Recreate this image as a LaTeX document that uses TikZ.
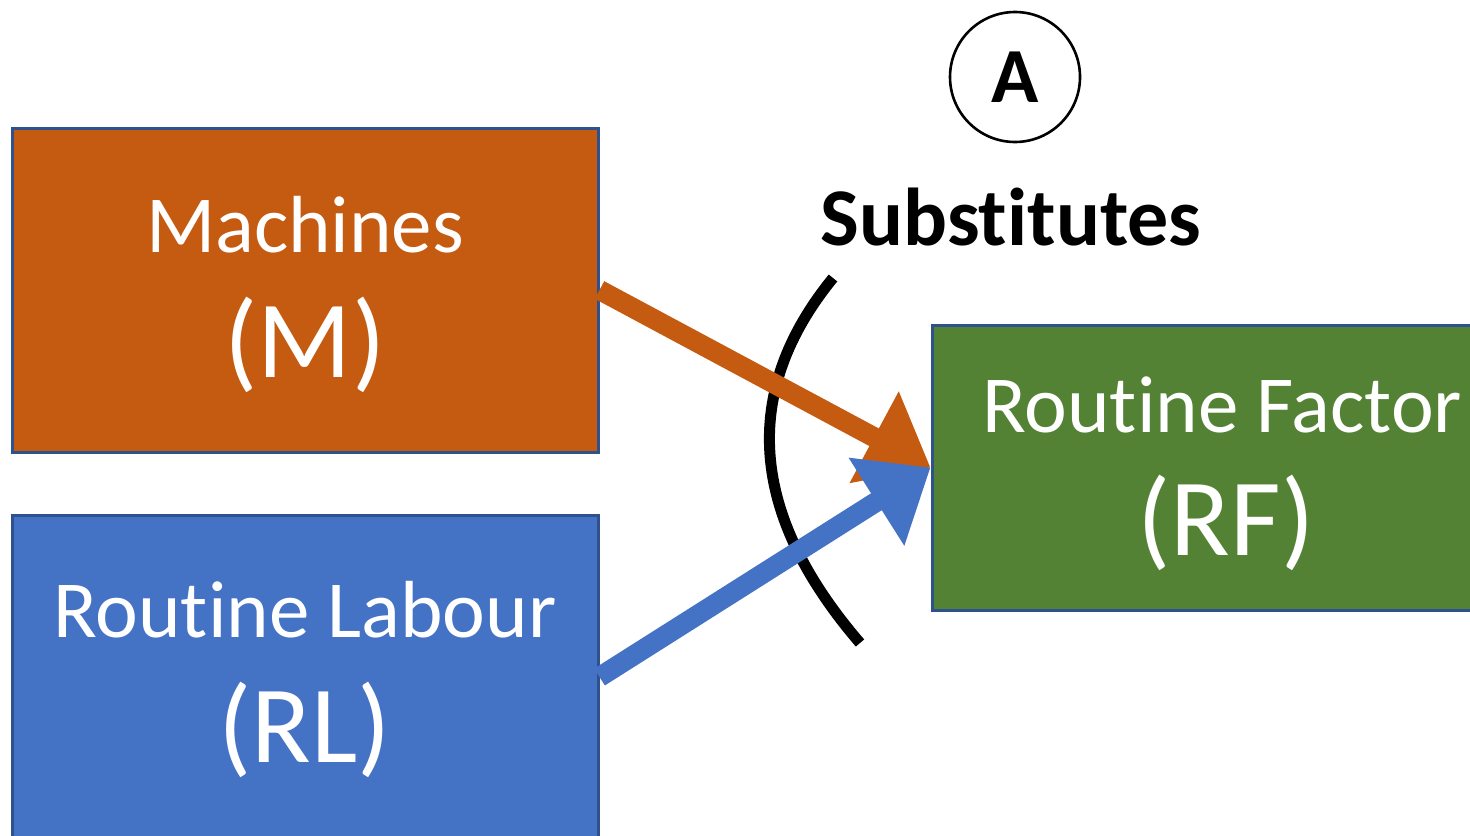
\documentclass[tikz,border=0pt]{standalone}
\usepackage{fontspec}
\setmainfont{Carlito}[Ligatures=NoCommon]
\usetikzlibrary{arrows.meta}

\definecolor{machorange}{HTML}{C55A11}
\definecolor{labourblue}{HTML}{4472C4}
\definecolor{factorgreen}{HTML}{548235}
\definecolor{boxedge}{HTML}{2F528F}

\tikzset{
    factorbox/.style={draw=boxedge,line width=1.5pt,minimum width=293pt,inner sep=0pt},
    boxtext/.style={anchor=base,text=white,inner sep=0pt,font=\fontsize{40.5}{44}\selectfont},
    bigtext/.style={anchor=base,text=white,inner sep=0pt,font=\fontsize{55}{60}\selectfont},
    fatarrow/.style={line width=10pt,-{Triangle[length=32pt,width=50pt]}}
}

\begin{document}
\begin{tikzpicture}[x=0.5pt,y=-0.5pt]
    \useasboundingbox (0,0) rectangle (1470,835);

    \node[factorbox,fill=machorange,minimum height=162pt] (M) at (305,290) {};
    \node[factorbox,fill=labourblue,minimum height=162pt] (RL) at (305,677) {};
    \node[factorbox,fill=factorgreen,minimum height=142.5pt] (RF) at (1225,467.5) {};

    \node[boxtext] (mname) at (305,252) {Machines};
    \node[bigtext] (mabbr) at (305,377) {(M)};
    \node[boxtext] (rlname) at (305,637) {Routine Labour};
    \node[bigtext] (rlabbr) at (305,762) {(RL)};
    \node[boxtext,anchor=base west] (rfname) at (982,432) {Routine Factor};
    \node[bigtext] (rfabbr) at (1226,555) {(RF)};

    \node[draw,circle,line width=1.3pt,minimum size=65pt,inner sep=0pt,
          font=\fontsize{39}{42}\selectfont\bfseries] (A) at (1015,77) {A};
    \node[anchor=base,inner sep=0pt,font=\fontsize{41}{45}\selectfont\bfseries]
        (subst) at (1011,245) {Substitutes};

    \draw[line width=5.5pt] (833,278) .. controls (740,392) and (749,514) .. (860,643);

    \draw[fatarrow,machorange] (M.east) -- (RF.west);
    \draw[fatarrow,labourblue] (RL.east) -- (RF.west);
\end{tikzpicture}
\end{document}
